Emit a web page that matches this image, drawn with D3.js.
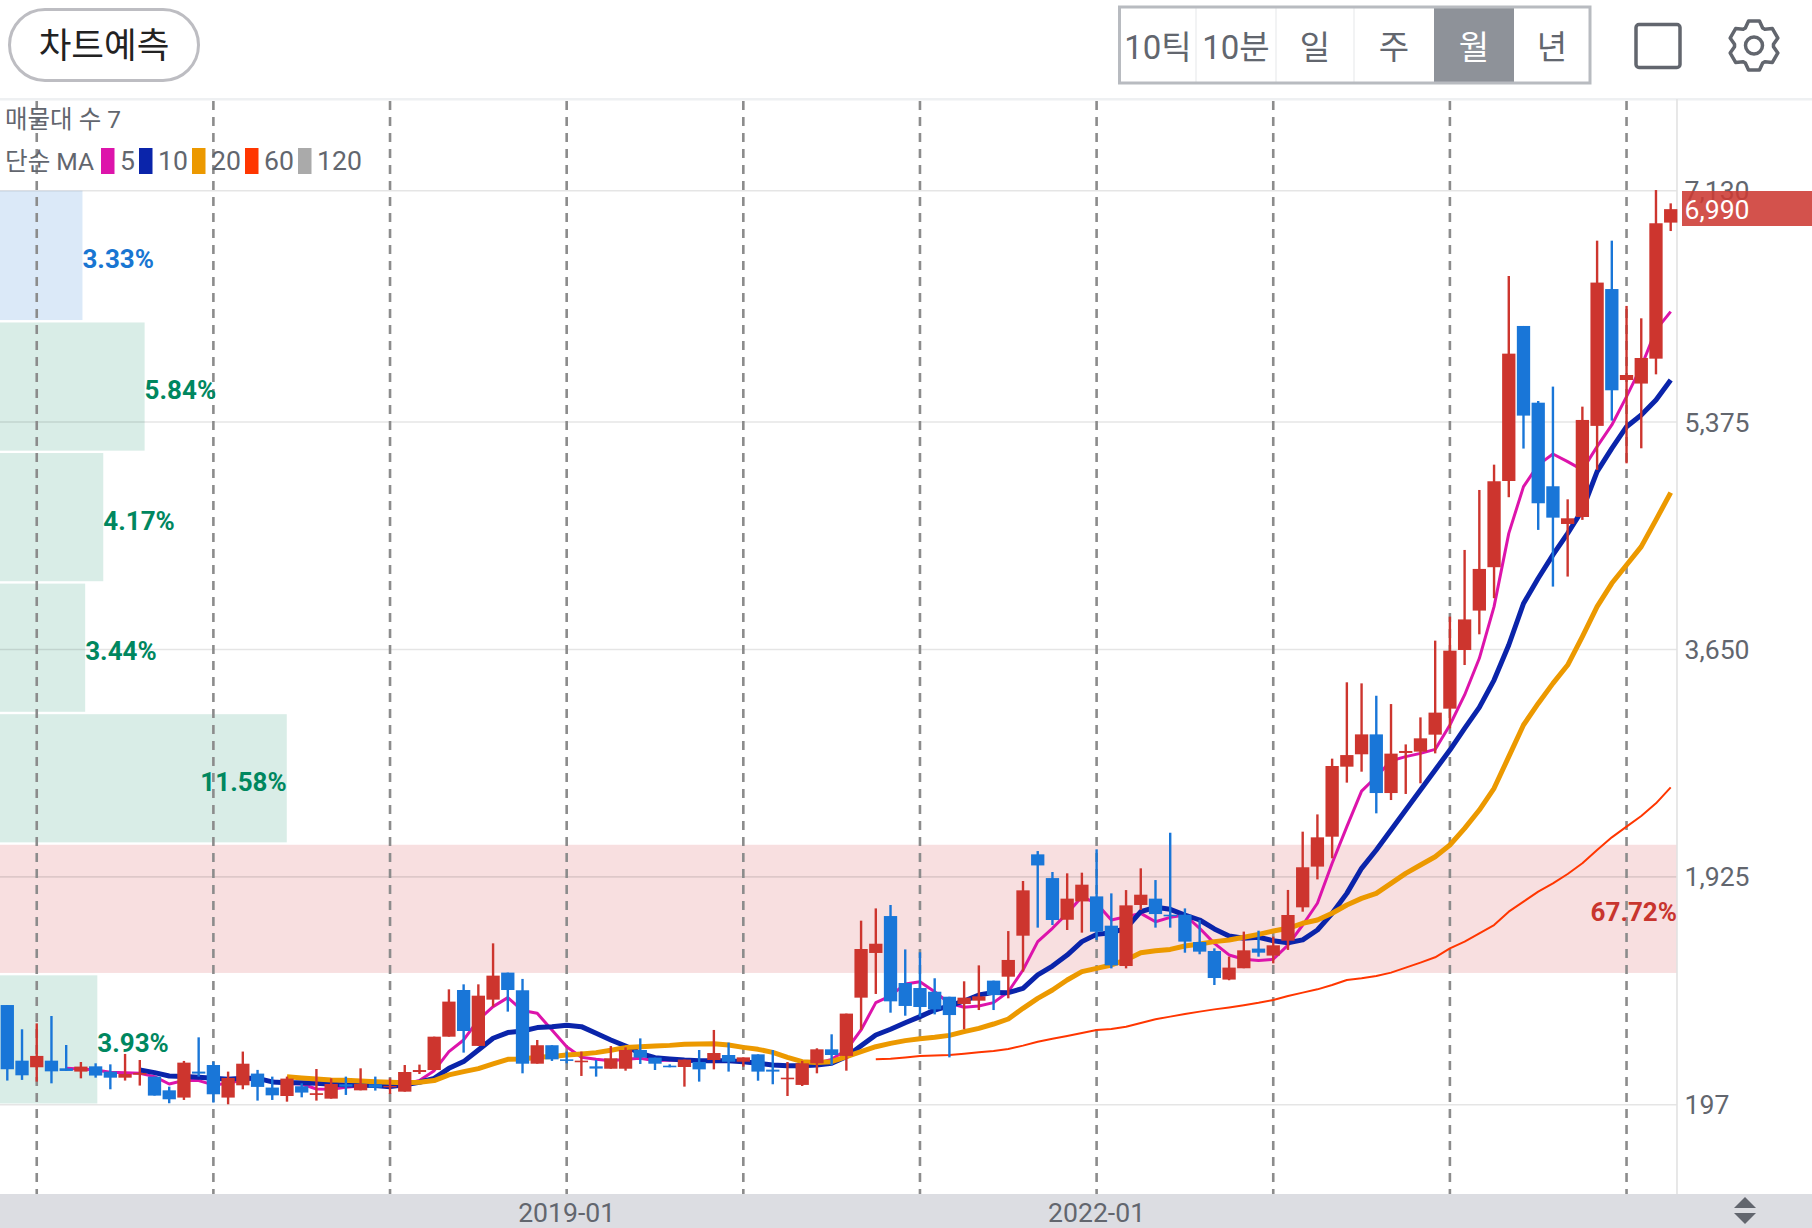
<!DOCTYPE html>
<html><head><meta charset="utf-8">
<script src="https://cdn.jsdelivr.net/npm/d3@7/dist/d3.min.js"></script>
<style>
html,body{margin:0;padding:0;background:#fff;overflow:hidden}
svg{display:block}
text{font-family:Roboto,"Noto Sans CJK KR",sans-serif}
</style></head><body><div id="c"></div>
<script>
const months = d3.timeMonths(new Date(2015,10,1), new Date(2025,4,1)).map(d3.timeFormat("%Y-%m"));
const yearMarks = ["2016-01","2017-01","2018-01","2019-01","2020-01","2021-01","2022-01","2023-01","2024-01","2025-01"];
const xLabels = ["2019-01","2022-01"];
const priceTicks = [197,1925,3650,5375,7130];
const currentPrice = 6990;
const open = [953,531,481,531,473,448,488,448,402,425,410,306,251,448,498,251,344,433,327,263,337,271,243,352,306,352,329,296,445,460,713,1067,643,994,1199,1065,508,648,541,519,488,470,470,612,554,493,483,521,536,574,523,579,463,390,347,511,617,567,1009,1348,1628,1120,1082,1054,1016,961,986,1138,1168,1479,2096,1916,1600,1739,1777,1555,1249,1712,1760,1638,1638,1431,1363,1146,1232,1381,1328,1441,1694,2003,2230,2761,2855,3006,2561,2865,2875,3004,3201,3646,3945,4274,4928,6104,5522,4888,4602,4655,5346,6384,5694,5667,5856,6888];
const close = [466,420,567,450,453,486,418,402,430,438,266,238,516,433,276,400,508,332,268,395,289,284,354,334,354,326,339,445,460,713,979,756,1024,1176,1067,508,648,541,529,531,471,549,612,554,508,481,539,465,589,523,556,448,448,402,511,617,574,888,1378,1418,981,946,938,920,877,1009,1019,1029,1295,1823,2012,1598,1760,1866,1509,1254,1709,1790,1643,1626,1434,1358,1158,1237,1368,1350,1406,1636,1998,2225,2766,2849,3006,2561,2860,2880,2976,3171,3641,3878,4261,4926,5894,5424,4759,4650,4645,5391,6433,5616,5732,5861,6883,6990];
const high = [953,769,814,870,650,521,511,503,582,536,410,334,529,708,524,448,600,461,410,410,359,468,397,410,473,410,397,498,501,713,1072,1110,1110,1421,1199,1151,688,648,600,600,536,642,632,700,554,503,539,612,764,668,556,579,612,521,529,625,731,888,1593,1686,1712,1375,1353,1156,1016,1133,1254,1138,1514,1894,2121,1962,1952,1957,2134,1800,1825,1990,1901,2260,1686,1598,1383,1320,1510,1517,1472,1826,2268,2399,2822,3401,3393,3299,3236,2930,3135,3717,3899,4405,4860,5052,6483,6104,5535,5644,4789,5492,6751,6751,6256,6162,7135,7034];
const low = [380,385,372,359,453,397,402,314,380,342,266,208,233,410,213,200,314,228,233,220,253,228,243,271,306,304,279,296,430,460,713,592,643,941,903,435,508,529,511,415,410,470,455,506,460,481,334,372,465,448,486,379,352,263,339,435,498,455,764,1037,895,872,865,882,556,769,915,915,1004,1206,1540,1560,1522,1502,1446,1231,1231,1674,1540,1540,1350,1338,1105,1141,1232,1320,1269,1371,1661,1906,2066,2640,2723,2407,2508,2554,2635,2862,3052,3532,3765,4039,4805,5174,4557,4127,4203,4633,5012,5386,5062,5176,5737,6824];
const ma5 = [null,null,null,null,473,468,460,443,440,435,410,354,380,380,347,359,385,390,377,359,354,316,314,329,339,344,339,352,380,455,600,688,840,941,1009,911,890,764,637,557,541,530,541,549,531,536,531,523,529,529,523,511,498,493,481,511,541,612,764,971,1022,1113,1130,1054,966,936,946,971,1054,1219,1434,1535,1648,1775,1724,1598,1623,1648,1585,1618,1636,1535,1421,1333,1300,1290,1300,1408,1560,1725,2028,2306,2576,2685,2806,2837,2862,2892,3077,3305,3583,3975,4531,4885,5050,5133,5075,5012,5189,5353,5568,5795,6074,6213];
const ma10 = [null,null,null,null,null,null,null,null,null,461,440,415,410,405,397,390,397,397,370,364,364,359,352,347,344,342,334,349,367,397,473,524,612,701,744,756,782,789,799,789,739,688,642,587,554,544,536,531,531,531,523,511,498,493,493,498,511,561,645,726,769,819,865,915,946,984,1029,1049,1047,1080,1181,1249,1332,1434,1489,1502,1535,1661,1694,1679,1636,1598,1530,1477,1459,1467,1441,1426,1447,1522,1649,1800,1990,2129,2281,2432,2584,2736,2887,3052,3211,3418,3684,3999,4190,4367,4531,4708,4999,5176,5340,5429,5543,5694];
const ma20 = [null,null,null,null,null,null,null,null,null,null,null,null,null,null,null,null,null,null,null,410,400,392,385,382,377,372,367,364,367,380,423,448,471,506,541,544,557,562,574,582,592,610,630,637,642,647,655,657,660,650,632,617,594,556,523,518,523,561,599,637,662,683,698,708,723,751,776,809,847,928,1004,1067,1143,1206,1231,1257,1295,1350,1365,1375,1401,1416,1434,1446,1467,1489,1515,1535,1573,1598,1649,1712,1762,1800,1876,1952,2015,2078,2167,2293,2432,2597,2837,3077,3241,3393,3532,3748,3975,4152,4291,4430,4633,4840];
const ma60 = [null,null,null,null,null,null,null,null,null,null,null,null,null,null,null,null,null,null,null,null,null,null,null,null,null,null,null,null,null,null,null,null,null,null,null,null,null,null,null,null,null,null,null,null,null,null,null,null,null,null,null,null,null,null,null,null,null,null,null,541,545,555,566,570,574,584,594,605,620,645,675,697,718,741,764,771,789,817,845,865,885,903,920,935,952,970,991,1022,1047,1072,1105,1143,1156,1173,1199,1237,1275,1315,1383,1434,1497,1560,1661,1737,1813,1876,1947,2028,2129,2225,2306,2387,2483,2604];
const volumePct = [3.93,67.72,11.58,3.44,4.17,5.84,3.33];
const volumeLabels = ["3.93%","67.72%","11.58%","3.44%","4.17%","5.84%","3.33%"];
const maNames = ["5","10","20","60","120"];
const maColors = ["#dd14ab","#0a24aa","#ec9900","#ff3600","#aaaaaa"];
const periods = ["10틱","10분","일","주","월","년"];

const W=1812,H=1228,R=1677,axisBottom=1194,headerY=99;
const GREY="#62666e",RED="#cd352e",BLUE="#1976d8";
const svg=d3.select("#c").append("svg").attr("width",W).attr("height",H).attr("viewBox",`0 0 ${W} ${H}`);
const x=d3.scalePoint().domain(months).range([7.3,1670.7]);
const y=d3.scaleLinear().domain([197,7130]).range([1104.7,190.7]);
const w=d3.scaleLinear().domain([0,67.72]).range([0,R]);

// volume profile
const step=(7130-197)/volumePct.length;
const bins=volumePct.map((p,i)=>({p,label:volumeLabels[i],lo:197+i*step,hi:197+(i+1)*step,i}));
const maxP=d3.max(volumePct);
const kind=d=>d.p===maxP?"max":(d.i===volumePct.length-1?"top":"other");
const fillOf={max:"#f8dfe0",top:"#dbe9f8",other:"#d9ede7"};
const txtOf={max:"#c8352e",top:"#1976d2",other:"#00875f"};
svg.append("g").selectAll("rect").data(bins).join("rect")
 .attr("x",0).attr("width",d=>w(d.p)).attr("y",d=>y(d.hi)+(d.i===6?0:1.2)).attr("height",d=>y(d.lo)-y(d.hi)-(d.i===6?1.2:2.4)).attr("fill",d=>fillOf[kind(d)]);

// grid
svg.append("rect").attr("x",0).attr("y",headerY-1).attr("width",W).attr("height",2.5).attr("fill","#eef0f2");
svg.append("g").selectAll("line").data(priceTicks).join("line")
 .attr("x1",0).attr("x2",R).attr("y1",d=>y(d)).attr("y2",d=>y(d)).attr("stroke","#000").attr("stroke-opacity",.1).attr("stroke-width",1.6);
svg.append("line").attr("x1",R).attr("x2",R).attr("y1",headerY).attr("y2",axisBottom).attr("stroke","#e2e2e2").attr("stroke-width",1.6);
svg.append("g").selectAll("line").data(yearMarks).join("line")
 .attr("x1",d=>x(d)).attr("x2",d=>x(d)).attr("y1",headerY+2).attr("y2",axisBottom)
 .attr("stroke","#8c8c8c").attr("stroke-width",2.6).attr("stroke-dasharray","9 7");

// moving averages
const series=[ma5,ma10,ma20,ma60];
const widths=[3,5,5,2];
const line=d3.line().defined(d=>d[1]!=null).x(d=>x(d[0])).y(d=>y(d[1]));
series.forEach((s,i)=>svg.append("path").attr("d",line(s.map((v,j)=>[months[j],v])))
 .attr("fill","none").attr("stroke",maColors[i]).attr("stroke-width",widths[i]).attr("stroke-linejoin","round"));

// candles
const bars=months.map((m,i)=>({m,o:open[i],c:close[i],h:high[i],l:low[i]}));
const col=d=>d.c>=d.o?RED:BLUE;
const g=svg.append("g");
g.selectAll("line").data(bars).join("line").attr("x1",d=>x(d.m)).attr("x2",d=>x(d.m))
 .attr("y1",d=>y(d.h)).attr("y2",d=>y(d.l)).attr("stroke",col).attr("stroke-width",2.4);
g.selectAll("rect").data(bars).join("rect").attr("x",d=>x(d.m)-6.65).attr("width",13.3)
 .attr("y",d=>y(Math.max(d.o,d.c))).attr("height",d=>Math.abs(y(d.o)-y(d.c))).attr("fill",col);

// volume labels
svg.append("g").selectAll("text").data(bins).join("text")
 .attr("x",d=>w(d.p)).attr("y",d=>(y(d.hi)+y(d.lo))/2+3.5)
 .attr("text-anchor",d=>d.p>10?"end":"start").attr("dominant-baseline","central")
 .attr("font-size",26).attr("font-weight",700).attr("fill",d=>txtOf[kind(d)]).text(d=>d.label);

// y axis
const ya=svg.append("g").attr("transform",`translate(${R},0)`)
 .call(d3.axisRight(y).tickValues(priceTicks).tickFormat(d3.format(",")).tickSize(0).tickPadding(7.5));
ya.select(".domain").remove();
ya.selectAll("text").attr("font-size",26.6).attr("dy","0.34em").attr("fill",GREY).style("font-family",'Roboto,"Noto Sans CJK KR",sans-serif');
svg.append("rect").attr("x",1682).attr("y",191).attr("width",W-1682).attr("height",35).attr("fill","#cd3a33").attr("fill-opacity",.88);
svg.append("text").attr("x",1684.5).attr("y",209).attr("dominant-baseline","central").attr("font-size",26.6).attr("fill","#fff").text(d3.format(",")(currentPrice));

// bottom bar + x axis
svg.append("rect").attr("x",0).attr("y",axisBottom).attr("width",W).attr("height",H-axisBottom).attr("fill","#dcdde2");
const xa=svg.append("g").attr("transform",`translate(-0.5,${axisBottom})`)
 .call(d3.axisBottom(x).tickValues(xLabels).tickSize(0).tickPadding(9));
xa.select(".domain").remove();
xa.selectAll("text").attr("font-size",26.6).attr("fill",GREY).style("font-family",'Roboto,"Noto Sans CJK KR",sans-serif');
svg.append("path").attr("d","M1734 1208 L1745 1197 L1756 1208 Z").attr("fill",GREY);
svg.append("path").attr("d","M1734 1213 L1745 1224 L1756 1213 Z").attr("fill",GREY);

// legend
svg.append("text").attr("x",5).attr("y",128).attr("font-size",24.5).attr("fill",GREY).text("매물대 수 7");
svg.append("text").attr("x",5).attr("y",170).attr("font-size",24.6).attr("fill",GREY).text("단순 MA");
const swX=[101,139,192,245,298];
maNames.forEach((n,i)=>{
 svg.append("rect").attr("x",swX[i]).attr("y",148).attr("width",13.5).attr("height",26).attr("fill",maColors[i]);
 svg.append("text").attr("x",swX[i]+19).attr("y",170).attr("font-size",26.6).attr("fill",GREY).text(n);
});

// header
svg.append("rect").attr("x",9.5).attr("y",9.5).attr("width",189).attr("height",71).attr("rx",35.5).attr("fill","#fff").attr("stroke","#bdbdc2").attr("stroke-width",3);
svg.append("text").attr("x",104).attr("y",45.5).attr("text-anchor","middle").attr("dominant-baseline","central").attr("font-size",35.5).attr("fill","#222").text("차트예측");
const cellX=[1120,1196,1276,1354,1434,1514,1590];
periods.forEach((p,i)=>{
 if(p==="월") svg.append("rect").attr("x",cellX[i]).attr("y",7).attr("width",cellX[i+1]-cellX[i]).attr("height",76).attr("fill","#8e9299");
 else if(i<5&&periods[i+1]!=="월") svg.append("line").attr("x1",cellX[i+1]).attr("x2",cellX[i+1]).attr("y1",8).attr("y2",82).attr("stroke","#f2f3f4").attr("stroke-width",2);
 svg.append("text").attr("x",(cellX[i]+cellX[i+1])/2).attr("y",47).attr("text-anchor","middle").attr("dominant-baseline","central")
  .attr("font-size",33).attr("fill",p==="월"?"#fff":GREY).text(p);
});
svg.append("rect").attr("x",1119.5).attr("y",7).attr("width",470.5).attr("height",76).attr("fill","none").attr("stroke","#b8bbc0").attr("stroke-width",3);
svg.append("rect").attr("x",1636).attr("y",24.5).attr("width",44).attr("height",43).attr("rx",3).attr("fill","none").attr("stroke",GREY).attr("stroke-width",3.5);
const gear=[];
d3.range(6).forEach(k=>{const a=k*Math.PI/3;
 [[-.46,19.5],[-.22,25],[.22,25],[.46,19.5]].forEach(([da,r])=>gear.push([a+da,r]));});
svg.append("path").attr("transform","translate(1754,45.5)").attr("d",d3.lineRadial().curve(d3.curveLinearClosed)(gear))
 .attr("fill","none").attr("stroke",GREY).attr("stroke-width",3.5).attr("stroke-linejoin","round");
svg.append("circle").attr("cx",1754).attr("cy",45.5).attr("r",8.5).attr("fill","none").attr("stroke",GREY).attr("stroke-width",3.5);
</script></body></html>
